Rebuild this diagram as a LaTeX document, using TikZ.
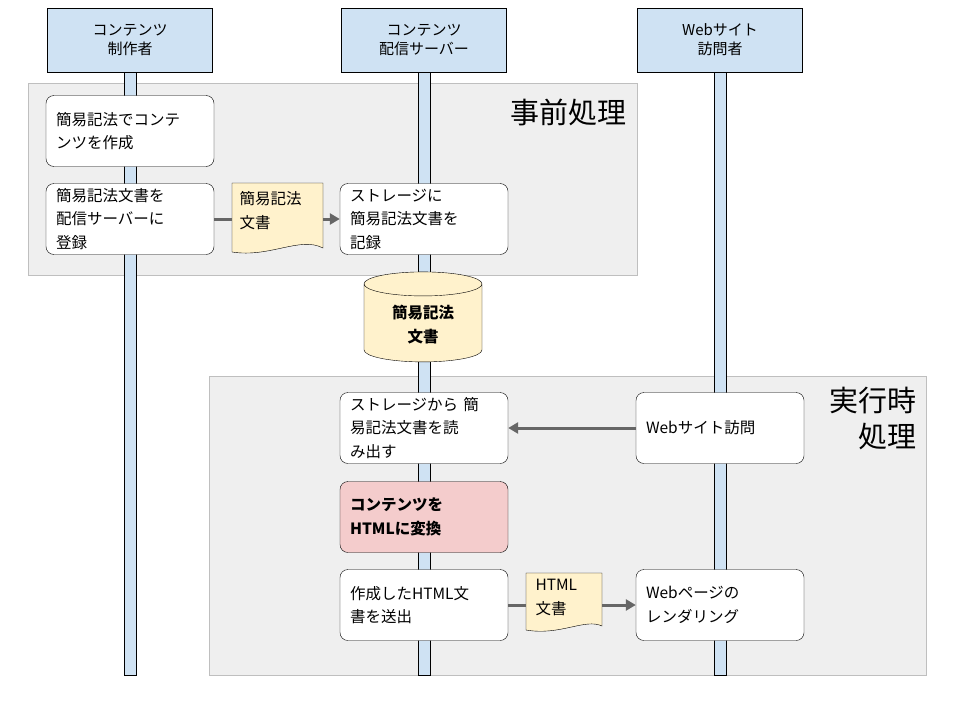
\documentclass[tikz,border=0pt]{standalone}
\usepackage{fontspec}
\setmainfont{Noto Sans CJK JP}
\usetikzlibrary{shapes.geometric,arrows.meta}
\definecolor{hdr}{HTML}{CFE2F3}
\definecolor{reg}{HTML}{EFEFEF}
\definecolor{doc}{HTML}{FFF2CC}
\definecolor{pnk}{HTML}{F4CCCC}
\definecolor{arr}{HTML}{666666}
\begin{document}
\begin{tikzpicture}[x=1pt,y=-1pt,
 hdr/.style={draw=black,fill=hdr,minimum width=165pt,minimum height=64pt,align=center,font=\fontsize{15}{19}\selectfont},
 box/.style={draw=black,fill=white,rounded corners=8pt,minimum width=167pt,minimum height=71pt,align=left,text width=148pt,inner xsep=10pt,font=\fontsize{15.5}{23.5}\selectfont},
 life/.style={draw=black,fill=hdr,line width=0.5pt},
 reg/.style={draw=black!25,fill=reg,line width=0.5pt},
 con/.style={draw=arr,line width=3pt},
 arw/.style={con,-{Triangle[length=10pt,width=11pt]}},
 lbl/.style={font=\fontsize{15.5}{23.5}\selectfont,align=left}]
\useasboundingbox (0,0) rectangle (960,720);
\fill[white] (0,0) rectangle (960,720);
\node[hdr] (h1) at (130,40) {コンテンツ\\制作者};
\node[hdr] (h2) at (424,40) {コンテンツ\\配信サーバー};
\node[hdr] (h3) at (720,40) {Webサイト\\訪問者};
\draw[reg] (28,83) rectangle (637,275);
\draw[reg] (209,376) rectangle (926,675);
\draw[life] (124,72) rectangle (136,675);
\draw[life] (418,72) rectangle (430,675);
\draw[life] (714,72) rectangle (726,675);
\node[font=\fontsize{29}{34}\selectfont,anchor=east] (t1) at (630,112) {事前処理};
\node[font=\fontsize{29}{36}\selectfont,align=right,anchor=north east] (t2) at (920,384) {実行時\\処理};
\node[box] (b1) at (130,131) {簡易記法でコンテ\\ンツを作成};
\node[box] (b2) at (130,219) {簡易記法文書を\\配信サーバーに\\登録};
\node[box] (b3) at (424,219) {ストレージに\\簡易記法文書を\\記録};
\draw[fill=doc] (232,183) -- (323,183) -- (323,248) .. controls (300,236) and (270,258) .. (232,252) -- cycle;
\node[lbl,anchor=north west] (d1) at (236,188) {簡易記法\\文書};
\draw[con] (b2.east) -- (232,219);
\draw[arw] (323,219) -- (b3.west);
\node[cylinder,shape border rotate=90,draw=black,fill=doc,minimum width=118pt,minimum height=90pt,aspect=0.35,font=\bfseries\fontsize{15.5}{24}\selectfont,align=center] (db) at (423,325) {簡易記法\\文書};
\node[box] (r1) at (424,428) {ストレージから 簡\\易記法文書を読\\み出す};
\node[box] (v1) at (720,428) {Webサイト訪問};
\draw[arw] (v1.west) -- (r1.east);
\node[box,fill=pnk,font=\bfseries\fontsize{15.5}{23.5}\selectfont] (r2) at (424,517) {コンテンツを\\HTMLに変換};
\node[box] (r3) at (424,605) {作成したHTML文\\書を送出};
\node[box] (v2) at (720,605) {Webページの\\レンダリング};
\draw[fill=doc] (526,573) -- (602,573) -- (602,626) .. controls (585,618) and (560,636) .. (526,630) -- cycle;
\node[lbl,anchor=north west] (d2) at (532,576) {HTML\\文書};
\draw[con] (r3.east) -- (526,605);
\draw[arw] (602,605) -- (v2.west);
\end{tikzpicture}
\end{document}
